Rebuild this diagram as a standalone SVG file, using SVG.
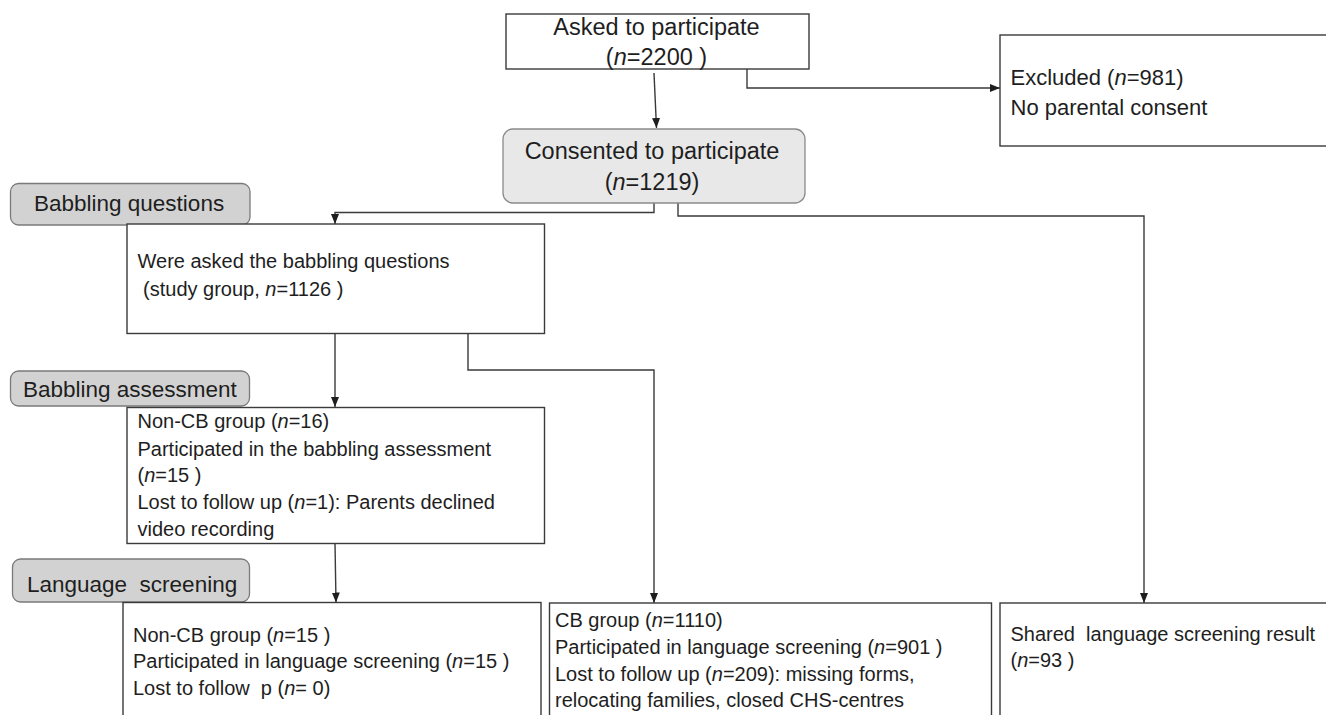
<svg xmlns="http://www.w3.org/2000/svg" width="1326" height="715" viewBox="0 0 1326 715">
<style>
  text { font-family: "Liberation Sans", Arial, sans-serif; fill: #1e1e1e; white-space: pre; }
  .t { font-size: 20px; }
  .big { font-size: 23.5px; }
  .lab { font-size: 22.5px; }
  .exc { font-size: 22px; }
  .box { fill: #ffffff; stroke: #3a3a3a; stroke-width: 1.4; }
  .gbox { fill: #e8e8e8; stroke: #8a8a8a; stroke-width: 1.3; }
  .lbox { fill: #d2d2d2; stroke: #7a7a7a; stroke-width: 1.3; }
  .c { fill: none; stroke: #3a3a3a; stroke-width: 1.4; }
  .i { font-style: italic; }
</style>
<defs>
  <marker id="ah" markerUnits="userSpaceOnUse" markerWidth="10" markerHeight="10" viewBox="0 0 10 10" refX="10" refY="5" orient="auto">
    <path d="M0,1 L10,5 L0,9 Z" fill="#1e1e1e"/>
  </marker>
</defs>

<g id="connectors">
  <path class="c" d="M654,73 L656.5,128" marker-end="url(#ah)"/>
  <path class="c" d="M747,69 L747,88 L1000,88" marker-end="url(#ah)"/>
  <path class="c" d="M654,203 L654,212.5 L335,212.5 L335,224" marker-end="url(#ah)"/>
  <path class="c" d="M678,203 L678,216 L1144,216 L1144,603" marker-end="url(#ah)"/>
  <path class="c" d="M335,334 L335,407" marker-end="url(#ah)"/>
  <path class="c" d="M468,334 L468,370 L654,370 L654,603" marker-end="url(#ah)"/>
  <path class="c" d="M335,543 L336,602.5" marker-end="url(#ah)"/>
</g>

<g id="asked">
  <rect class="box" x="506" y="14" width="303" height="55"/>
  <text class="big" x="656.5" y="35" text-anchor="middle">Asked to participate</text>
  <text class="big" x="656.5" y="65" text-anchor="middle">(<tspan class="i">n</tspan>=2200 )</text>
</g>

<g id="excluded">
  <rect class="box" x="1000" y="35" width="340" height="111"/>
  <text class="exc" x="1010.5" y="84.5">Excluded (<tspan class="i">n</tspan>=981)</text>
  <text class="exc" x="1010.5" y="115">No parental consent</text>
</g>

<g id="consented">
  <rect class="gbox" x="503" y="129" width="302" height="74" rx="10" ry="10"/>
  <text class="big" x="652" y="159" text-anchor="middle">Consented to participate</text>
  <text class="big" x="652" y="190" text-anchor="middle">(<tspan class="i">n</tspan>=1219)</text>
</g>

<g id="label-babbling-questions">
  <rect class="lbox" x="10.5" y="183.5" width="239.5" height="41.5" rx="8" ry="8"/>
  <text class="lab" x="34" y="211">Babbling questions</text>
</g>

<g id="asked-babbling">
  <rect class="box" x="127" y="224" width="417.5" height="109.5"/>
  <text class="t" x="137.5" y="267.5">Were asked the babbling questions</text>
  <text class="t" x="137.5" y="296"> (study group, <tspan class="i">n</tspan>=1126 )</text>
</g>

<g id="label-babbling-assessment">
  <rect class="lbox" x="10.5" y="371" width="239" height="35" rx="8" ry="8"/>
  <text class="lab" x="23" y="396.5">Babbling assessment</text>
</g>

<g id="noncb-assessment">
  <rect class="box" x="127" y="407.5" width="417.5" height="136"/>
  <text class="t" x="137.5" y="428">Non-CB group (<tspan class="i">n</tspan>=16)</text>
  <text class="t" x="137.5" y="455.5">Participated in the babbling assessment</text>
  <text class="t" x="137.5" y="482">(<tspan class="i">n</tspan>=15 )</text>
  <text class="t" x="137.5" y="509">Lost to follow up (<tspan class="i">n</tspan>=1): Parents declined</text>
  <text class="t" x="137.5" y="535.5">video recording</text>
</g>

<g id="label-language-screening">
  <rect class="lbox" x="12.5" y="559" width="237" height="43" rx="8" ry="8"/>
  <text class="lab" x="27" y="591.5">Language  screening</text>
</g>

<g id="noncb-screening">
  <rect class="box" x="123" y="602.5" width="418" height="130"/>
  <text class="t" x="133" y="641.5">Non-CB group (<tspan class="i">n</tspan>=15 )</text>
  <text class="t" x="133" y="668">Participated in language screening (<tspan class="i">n</tspan>=15 )</text>
  <text class="t" x="133" y="694.5">Lost to follow  p (<tspan class="i">n</tspan>= 0)</text>
</g>

<g id="cb-screening">
  <rect class="box" x="549.5" y="603" width="442" height="130"/>
  <text class="t" x="555" y="627">CB group (<tspan class="i">n</tspan>=1110)</text>
  <text class="t" x="555" y="654">Participated in language screening (<tspan class="i">n</tspan>=901 )</text>
  <text class="t" x="555" y="680.5">Lost to follow up (<tspan class="i">n</tspan>=209): missing forms,</text>
  <text class="t" x="555" y="707">relocating families, closed CHS-centres</text>
</g>

<g id="shared-result">
  <rect class="box" x="1000" y="603" width="340" height="130"/>
  <text class="t" x="1010.5" y="640.5">Shared  language screening result</text>
  <text class="t" x="1010.5" y="666.5">(<tspan class="i">n</tspan>=93 )</text>
</g>
</svg>
